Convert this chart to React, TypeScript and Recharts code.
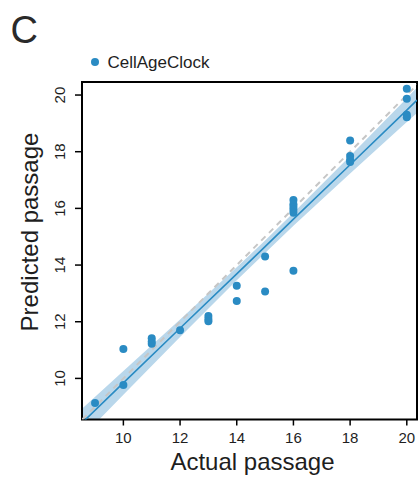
import React from 'react';
import { ComposedChart, XAxis, YAxis, Scatter, Line, Area, ReferenceArea } from 'recharts';

const actualPassage = [9, 10, 10, 11, 11, 11, 12, 13, 13, 13, 14, 14, 15, 15, 16, 16, 16, 16, 16, 16, 18, 18, 18, 18, 20, 20, 20, 20];
const predictedPassage = [9.13, 11.04, 9.77, 11.42, 11.3, 11.22, 11.7, 12.2, 12.1, 12.02, 13.27, 12.73, 14.3, 13.07, 13.8, 16.3, 16.15, 16.05, 15.95, 15.85, 18.4, 17.85, 17.72, 17.64, 20.22, 19.87, 19.3, 19.22];

const fitX = [8.54, 10, 12, 14, 15, 16, 18, 20, 20.36];
const fitY = [8.43, 9.84, 11.77, 13.69, 14.65, 15.62, 17.54, 19.47, 19.82];
const ciLow = [7.93, 9.42, 11.46, 13.46, 14.43, 15.39, 17.23, 19.05, 19.37];
const ciHigh = [8.93, 10.26, 12.08, 13.92, 14.87, 15.85, 17.85, 19.89, 20.27];

const identityX = [8.55, 20.36];
const axisTicks = [10, 12, 14, 16, 18, 20];
const seriesName = 'CellAgeClock';
const panelLetter = 'C';
const xLabel = 'Actual passage';
const yLabel = 'Predicted passage';

const X_DOMAIN: [number, number] = [8.54, 20.36];
const Y_DOMAIN: [number, number] = [8.55, 20.46];

const BLUE = '#2a8bc3';
const BAND = '#b9d7eb';
const DASH = '#c6c6c6';
const FONT = '"Liberation Sans", Arial, Helvetica, sans-serif';
const TEXT = '#1e1e1e';

const bandRows = fitX.map((x, i) => ({ x, fit: fitY[i], band: [ciLow[i], ciHigh[i]] }));
const identityRows = identityX.map((x) => ({ x, identity: x }));
const pointRows = actualPassage.map((x, i) => ({ x, y: predictedPassage[i] }));

const YTick = (props: any) => {
  const { x, y, payload } = props;
  return (
    <text x={x} y={y} transform={`rotate(-90, ${x}, ${y})`} textAnchor="middle" fontSize={15} fill={TEXT} fontFamily={FONT}>
      {payload.value}
    </text>
  );
};

const Dot = (props: any) => <circle cx={props.cx} cy={props.cy} r={4} fill={BLUE} />;

const YLabel = () => (
  <text x={38} y={232} transform="rotate(-90, 38, 232)" textAnchor="middle" fontSize={24} fill={TEXT} fontFamily={FONT}>
    {yLabel}
  </text>
);

export default function App() {
  return (
    <div style={{ position: 'absolute', left: 0, top: 0, width: 419, height: 479, background: '#fff' }}>
      <ComposedChart
        width={419}
        height={479}
        data={bandRows}
        margin={{ top: 82, right: 2, bottom: 0, left: 0 }}
      >
        <XAxis
          type="number"
          dataKey="x"
          domain={X_DOMAIN}
          allowDataOverflow
          ticks={axisTicks}
          height={59.5}
          axisLine={false}
          tickLine={{ stroke: '#000', strokeWidth: 1.5 }}
          tickSize={6}
          tickMargin={7}
          tick={{ fontSize: 15, fill: TEXT, fontFamily: FONT }}
          label={{ value: xLabel, position: 'insideBottom', offset: 9, dx: 3, fontSize: 24, fill: TEXT, fontFamily: FONT }}
        />
        <YAxis
          type="number"
          domain={Y_DOMAIN}
          allowDataOverflow
          ticks={axisTicks}
          width={82}
          axisLine={false}
          tickLine={{ stroke: '#000', strokeWidth: 1.5 }}
          tickSize={7}
          tickMargin={10}
          tick={<YTick />}
          label={<YLabel />}
        />
        <Area
          type="linear"
          dataKey="band"
          fill={BAND}
          fillOpacity={1}
          stroke="none"
          isAnimationActive={false}
        />
        <Line
          data={identityRows}
          type="linear"
          dataKey="identity"
          stroke={DASH}
          strokeWidth={2}
          strokeDasharray="6 5"
          dot={false}
          isAnimationActive={false}
        />
        <Line
          type="linear"
          dataKey="fit"
          stroke={BLUE}
          strokeWidth={1.6}
          dot={false}
          isAnimationActive={false}
        />
        <Scatter data={pointRows} dataKey="y" shape={<Dot />} isAnimationActive={false} />
        <ReferenceArea
          x1={X_DOMAIN[0]}
          x2={X_DOMAIN[1]}
          y1={Y_DOMAIN[0]}
          y2={Y_DOMAIN[1]}
          fill="none"
          fillOpacity={0}
          stroke="#000"
          strokeWidth={2}
          ifOverflow="visible"
        />
      </ComposedChart>
      <svg width={419} height={90} style={{ position: 'absolute', left: 0, top: 0, pointerEvents: 'none' }}>
        <text x={10.5} y={42.5} fontSize={38} fill="#2a2a2a" fontFamily={FONT}>{panelLetter}</text>
        <circle cx={95} cy={62} r={4} fill={BLUE} />
        <text x={107.5} y={67.7} fontSize={17} fill={TEXT} fontFamily={FONT}>{seriesName}</text>
      </svg>
    </div>
  );
}
